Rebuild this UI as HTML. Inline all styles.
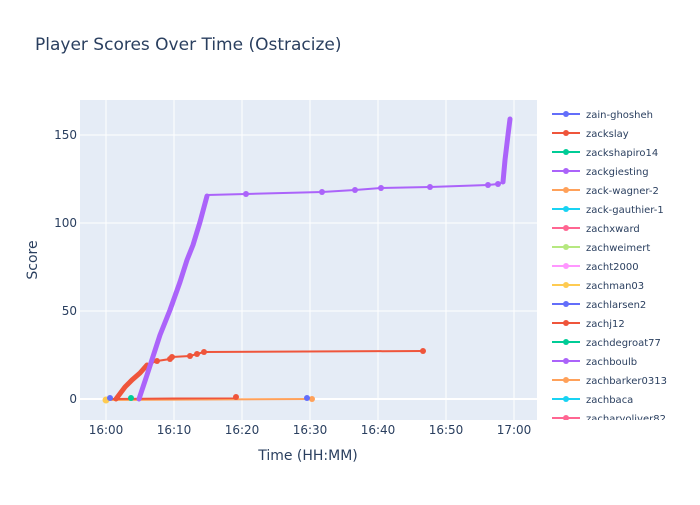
<!DOCTYPE html>
<html><head><style>
body{margin:0;background:#fff;}
svg{font-family:"DejaVu Sans","Liberation Sans",sans-serif;}
</style></head><body>
<svg width="700" height="500" xmlns="http://www.w3.org/2000/svg">
<rect width="700" height="500" fill="#fff"/>
<text x="35" y="50" font-size="17" fill="#2a3f5f">Player Scores Over Time (Ostracize)</text>
<rect x="80" y="100" width="457" height="320" fill="#e5ecf6"/>
<g stroke="#fff" stroke-width="1">
<line x1="106" y1="100" x2="106" y2="420"/><line x1="174" y1="100" x2="174" y2="420"/>
<line x1="242" y1="100" x2="242" y2="420"/><line x1="310" y1="100" x2="310" y2="420"/>
<line x1="378" y1="100" x2="378" y2="420"/><line x1="446" y1="100" x2="446" y2="420"/>
<line x1="514" y1="100" x2="514" y2="420"/>
<line x1="80" y1="135" x2="537" y2="135"/><line x1="80" y1="223" x2="537" y2="223"/>
<line x1="80" y1="311" x2="537" y2="311"/>
<line x1="80" y1="399" x2="537" y2="399" stroke-width="2"/>
</g>
<g font-size="12" fill="#2a3f5f" text-anchor="middle">
<text x="106" y="434">16:00</text><text x="174" y="434">16:10</text><text x="242" y="434">16:20</text>
<text x="310" y="434">16:30</text><text x="378" y="434">16:40</text><text x="446" y="434">16:50</text>
<text x="514" y="434">17:00</text>
</g>
<g font-size="12" fill="#2a3f5f" text-anchor="end">
<text x="77" y="403">0</text><text x="77" y="315">50</text><text x="77" y="227">100</text><text x="77" y="139">150</text>
</g>
<text x="308" y="460" font-size="14" fill="#2a3f5f" text-anchor="middle">Time (HH:MM)</text>
<text x="37" y="260" font-size="14" fill="#2a3f5f" text-anchor="middle" transform="rotate(-90 37 260)">Score</text>
<polyline points="106,400 312,399" fill="none" stroke="#ffa15a" stroke-width="2"/>
<polyline points="110,399 236,398 236,397" fill="none" stroke="#ef553b" stroke-width="2"/>
<circle cx="236" cy="397" r="3" fill="#ef553b"/>
<circle cx="312" cy="399" r="3" fill="#ffa15a"/>
<circle cx="106" cy="400" r="3.5" fill="#fecb52"/>
<circle cx="110" cy="398" r="3" fill="#636efa"/>
<circle cx="307" cy="398" r="3" fill="#636efa"/>
<circle cx="131" cy="398" r="3" fill="#00cc96"/>
<polyline points="116,399 125,387 132,380 140,373 147,365 157,361 170,359 172,357 190,356 197,354 204,352 423,351" fill="none" stroke="#ef553b" stroke-width="2"/>
<polyline points="116,399 125,387 132,380 140,373 147,365" fill="none" stroke="#ef553b" stroke-width="5" stroke-linecap="round"/>
<g fill="#ef553b"><circle cx="157" cy="361" r="3"/><circle cx="170" cy="359" r="3"/><circle cx="172" cy="357" r="3"/><circle cx="190" cy="356" r="3"/><circle cx="197" cy="354" r="3"/><circle cx="204" cy="352" r="3"/><circle cx="423" cy="351" r="3"/></g>
<polyline points="139,399 147,375 160,335 170,310 180,282 187,260 193,245 200,222 207,196" fill="none" stroke="#ab63fa" stroke-width="5" stroke-linecap="round" stroke-linejoin="round"/>
<polyline points="207,195 246,194 322,192 355,190 381,188 430,187 488,185 498,184 503,182 505,160 508,135 510,119" fill="none" stroke="#ab63fa" stroke-width="2"/>
<polyline points="503,182 505,160 508,135 510,119" fill="none" stroke="#ab63fa" stroke-width="5" stroke-linecap="round"/>
<g fill="#ab63fa"><circle cx="246" cy="194" r="3"/><circle cx="322" cy="192" r="3"/><circle cx="355" cy="190" r="3"/><circle cx="381" cy="188" r="3"/><circle cx="430" cy="187" r="3"/><circle cx="488" cy="185" r="3"/><circle cx="498" cy="184" r="3"/></g>
<svg x="540" y="100" width="160" height="320">
<g font-size="10" fill="#2a3f5f" stroke-width="2">
<g transform="translate(0,14)"><line x1="12" x2="40" stroke="#636efa"/><circle cx="26" r="3" fill="#636efa"/><text x="46" y="4">zain-ghosheh</text></g>
<g transform="translate(0,33)"><line x1="12" x2="40" stroke="#ef553b"/><circle cx="26" r="3" fill="#ef553b"/><text x="46" y="4">zackslay</text></g>
<g transform="translate(0,52)"><line x1="12" x2="40" stroke="#00cc96"/><circle cx="26" r="3" fill="#00cc96"/><text x="46" y="4">zackshapiro14</text></g>
<g transform="translate(0,71)"><line x1="12" x2="40" stroke="#ab63fa"/><circle cx="26" r="3" fill="#ab63fa"/><text x="46" y="4">zackgiesting</text></g>
<g transform="translate(0,90)"><line x1="12" x2="40" stroke="#ffa15a"/><circle cx="26" r="3" fill="#ffa15a"/><text x="46" y="4">zack-wagner-2</text></g>
<g transform="translate(0,109)"><line x1="12" x2="40" stroke="#19d3f3"/><circle cx="26" r="3" fill="#19d3f3"/><text x="46" y="4">zack-gauthier-1</text></g>
<g transform="translate(0,128)"><line x1="12" x2="40" stroke="#ff6692"/><circle cx="26" r="3" fill="#ff6692"/><text x="46" y="4">zachxward</text></g>
<g transform="translate(0,147)"><line x1="12" x2="40" stroke="#b6e880"/><circle cx="26" r="3" fill="#b6e880"/><text x="46" y="4">zachweimert</text></g>
<g transform="translate(0,166)"><line x1="12" x2="40" stroke="#ff97ff"/><circle cx="26" r="3" fill="#ff97ff"/><text x="46" y="4">zacht2000</text></g>
<g transform="translate(0,185)"><line x1="12" x2="40" stroke="#fecb52"/><circle cx="26" r="3" fill="#fecb52"/><text x="46" y="4">zachman03</text></g>
<g transform="translate(0,204)"><line x1="12" x2="40" stroke="#636efa"/><circle cx="26" r="3" fill="#636efa"/><text x="46" y="4">zachlarsen2</text></g>
<g transform="translate(0,223)"><line x1="12" x2="40" stroke="#ef553b"/><circle cx="26" r="3" fill="#ef553b"/><text x="46" y="4">zachj12</text></g>
<g transform="translate(0,242)"><line x1="12" x2="40" stroke="#00cc96"/><circle cx="26" r="3" fill="#00cc96"/><text x="46" y="4">zachdegroat77</text></g>
<g transform="translate(0,261)"><line x1="12" x2="40" stroke="#ab63fa"/><circle cx="26" r="3" fill="#ab63fa"/><text x="46" y="4">zachboulb</text></g>
<g transform="translate(0,280)"><line x1="12" x2="40" stroke="#ffa15a"/><circle cx="26" r="3" fill="#ffa15a"/><text x="46" y="4">zachbarker0313</text></g>
<g transform="translate(0,299)"><line x1="12" x2="40" stroke="#19d3f3"/><circle cx="26" r="3" fill="#19d3f3"/><text x="46" y="4">zachbaca</text></g>
<g transform="translate(0,318)"><line x1="12" x2="40" stroke="#ff6692"/><circle cx="26" r="3" fill="#ff6692"/><text x="46" y="4">zacharyoliver82</text></g>
</g>
</svg>
</svg>
</body></html>
